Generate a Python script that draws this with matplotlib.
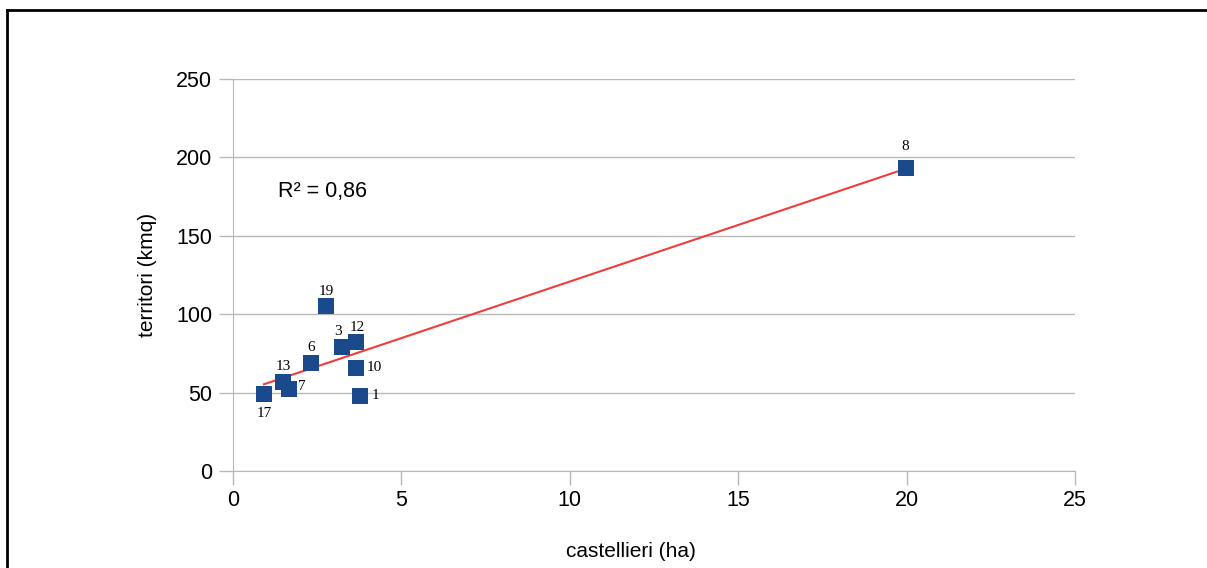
import matplotlib.pyplot as plt
import numpy as np
from matplotlib.lines import Line2D

plt.rcParams["font.family"] = ["Liberation Sans", "DejaVu Sans"]

# castellieri (ha) vs territori (kmq)
etichette = ["17", "13", "7", "6", "19", "3", "12", "10", "1", "8"]
castellieri = [0.92, 1.48, 1.66, 2.31, 2.76, 3.23, 3.65, 3.65, 3.77, 19.97]
territori = [49, 57, 52, 69, 105, 79, 82, 66, 48, 193]
# offset etichette (punti) rispetto al marker
offset_x = [0, 0, 9, 0, 0, -3, 1, 13, 11, 0]
offset_y = [-14, 11, 2, 11, 11, 11, 11, 0, 0, 16]

BLU = "#1b4a8c"
ROSSO = "#f03c3c"
GRIGIO = "#b8b8b8"

fig = plt.figure(figsize=(12.07, 5.68), dpi=100)
ax = fig.add_axes([233 / 1207, 1 - 471 / 568, (1075 - 233) / 1207, (471 - 79) / 568])

x = np.array(castellieri)
y = np.array(territori)
m, q = np.polyfit(x, y, 1)
xs = np.array([x.min(), x.max()])
ax.plot(xs, m * xs + q, color=ROSSO, lw=1.5, zorder=2)

ax.scatter(x, y, marker="s", s=125, color=BLU, zorder=3, linewidths=0)
for etich, xi, yi, dx, dy in zip(etichette, castellieri, territori, offset_x, offset_y):
    ax.annotate(etich, (xi, yi), xytext=(dx, dy), textcoords="offset points",
                ha="center", va="center", fontsize=11, family="Liberation Serif", zorder=4)

ax.text(1.35, 178, "R² = 0,86", fontsize=15.5, va="center", ha="left")

ax.set_xlim(0, 25)
ax.set_ylim(0, 250)
ax.set_xticks(range(0, 26, 5))
ax.set_yticks(range(0, 251, 50))
ax.yaxis.grid(True, color=GRIGIO, lw=1)
ax.set_axisbelow(True)
for lato in ["top", "right"]:
    ax.spines[lato].set_visible(False)
for lato in ["left", "bottom"]:
    ax.spines[lato].set_color(GRIGIO)
ax.tick_params(axis="both", colors=GRIGIO, labelcolor="black", labelsize=15.5, length=10, width=1)
ax.tick_params(axis="y", pad=5)
ax.tick_params(axis="x", pad=4)

ax.set_xlabel("castellieri (ha)", fontsize=15)
ax.set_ylabel("territori (kmq)", fontsize=15)
ax.xaxis.set_label_coords(0.473, -0.18)
ax.yaxis.set_label_coords(-0.09, 0.5)

# cornice della pagina
fig.add_artist(Line2D([7 / 1207, 7 / 1207], [0, 1 - 10 / 568], color="black", lw=2, transform=fig.transFigure))
fig.add_artist(Line2D([7 / 1207, 1], [1 - 10 / 568, 1 - 10 / 568], color="black", lw=2, transform=fig.transFigure))

fig.savefig("out.png", dpi=100)
